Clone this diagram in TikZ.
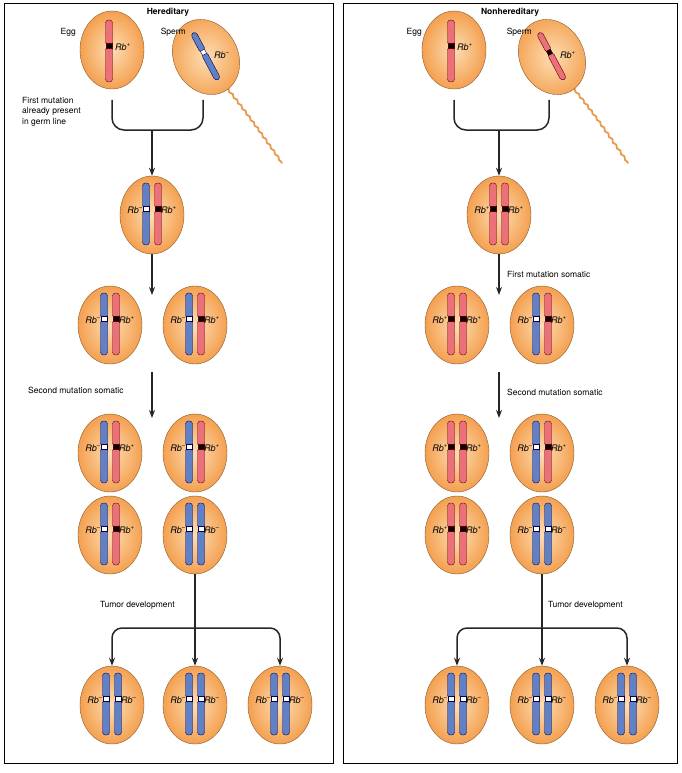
\documentclass[tikz,border=0pt]{standalone}
\usepackage{fontspec}
\setmainfont{TeX Gyre Heros}
\usetikzlibrary{arrows,arrows.meta,shapes.geometric,decorations.pathmorphing}

\definecolor{rodred}{RGB}{236,112,122}
\definecolor{rodblue}{RGB}{96,128,200}
\definecolor{cellorange}{RGB}{244,160,80}
\definecolor{celllight}{RGB}{253,222,180}

% one chromosome: x, y, type (m = Rb-, p = Rb+)
\newcommand\chrom[3]{%
  \draw[rod#3, rounded corners=3pt] (#1-3.5,#2-32) rectangle (#1+3.5,#2-7);
  \draw[rod#3, rounded corners=3pt] (#1-3.5,#2-5) rectangle (#1+3.5,#2+30);
  \draw[rod#3, mark#3] (#1-2.7,#2-9) rectangle (#1+2.7,#2-3.5);}
\newcommand\rbm{\textit{Rb}\textsuperscript{--}}
\newcommand\rbp{\textit{Rb}\textsuperscript{+}}
% a cell with a pair: name, x, y, left type, right type
\newcommand\cellpair[5]{%
  \node[cell] (#1) at (#2,#3) {};
  \chrom{#2-6}{#3}{#4}; \chrom{#2+6}{#3}{#5};
  \node[lbl, anchor=east] at (#2-9,#3-5) {\csname rb#4\endcsname};
  \node[lbl, anchor=west] at (#2+9,#3-5) {\csname rb#5\endcsname};}

\begin{document}
\begin{tikzpicture}[
    x=1pt, y=-1pt,
    > = stealth, % arrow head style
    line/.style = {line width=1.5pt, black!85},
    arr/.style = {line, ->, >={Stealth[length=8pt,width=6pt]}},
    cell/.style = {ellipse, draw=brown!70!black, thin, inner color=celllight,
                   outer color=cellorange, minimum width=64pt, minimum height=78pt},
    rodm/.style = {fill=rodblue, draw=blue!30!black, line width=0.4pt},
    rodp/.style = {fill=rodred, draw=red!35!black, line width=0.4pt},
    markm/.style = {fill=white},
    markp/.style = {fill=black},
    lbl/.style = {font=\fontsize{9}{10}\selectfont, inner sep=0pt},
    txt/.style = {font=\fontsize{8.5}{10.5}\selectfont, inner sep=0pt, align=left},
    tail/.style = {line width=1.8pt, color=cellorange!80!brown, line cap=round,
                   decorate, decoration={snake, amplitude=0.8pt, segment length=7pt}}
  ]
  \useasboundingbox (0,0) rectangle (681,773);
  \draw[thin] (4,3) rectangle (333,763);
  \draw[thin] (343,3) rectangle (677,763);

  % hereditary
  \node[txt, font=\bfseries\fontsize{8.5}{10}\selectfont] (ht) at (168,12) {Hereditary};
  \node[cell] (egg1) at (112,50) {};
  \chrom{109}{52}{p};
  \node[lbl, anchor=west] at (115,47) {\rbp};
  \node[txt, anchor=east] at (76,32) {Egg};
  \draw[tail] (222,82) .. controls (245,110) and (262,135) .. (282,163);
  \node[cell, rotate=28] (sp1) at (206,57) {};
  \begin{scope}[shift={(206,57)}, rotate=28, scale=0.85]
    \chrom{0}{0}{m};
  \end{scope}
  \node[lbl, anchor=west] at (214,55) {\rbm};
  \node[txt, anchor=east] at (186,32) {Sperm};
  \node[txt, anchor=north west] at (22,97) {First mutation\\already present\\in germ line};
  \coordinate (j1a) at (112,100);
  \coordinate (j1b) at (203,100);
  \coordinate (j1) at (152,130);
  \draw[line, rounded corners=12] (j1a) |- (j1) -| (j1b);
  \cellpair{z1}{152}{215}{m}{p}
  \draw[arr] (j1) -- (z1.north);
  \cellpair{a1}{110}{325}{m}{p}
  \cellpair{a2}{195}{325}{m}{p}
  \coordinate (k1) at (152,295);
  \draw[arr] (z1.south) -- (k1);
  \coordinate (k2) at (152,372);
  \coordinate (k3) at (152,418);
  \draw[arr] (k2) -- (k3);
  \node[txt, anchor=west] at (28,390) {Second mutation somatic};
  \cellpair{b1}{110}{453}{m}{p}
  \cellpair{b2}{195}{453}{m}{p}
  \cellpair{c1}{110}{535}{m}{p}
  \cellpair{c2}{195}{535}{m}{m}
  \node[txt, anchor=west] at (100,605) {Tumor development};
  \cellpair{d1}{112}{705}{m}{m}
  \cellpair{d2}{195}{705}{m}{m}
  \cellpair{d3}{280}{705}{m}{m}
  \coordinate (t1) at (195,628);
  \draw[line] (c2.south) -- (t1);
  \draw[arr, rounded corners=10] (t1) -| (d1.north);
  \draw[arr] (t1) -- (d2.north);
  \draw[arr, rounded corners=10] (t1) -| (d3.north);

  % nonhereditary
  \node[txt, font=\bfseries\fontsize{8.5}{10}\selectfont] (nt) at (510,12) {Nonhereditary};
  \node[cell] (egg2) at (454,50) {};
  \chrom{451}{52}{p};
  \node[lbl, anchor=west] at (457,47) {\rbp};
  \node[txt, anchor=east] at (422,32) {Egg};
  \draw[tail] (568,82) .. controls (592,110) and (608,135) .. (628,163);
  \node[cell, rotate=28] (sp2) at (552,57) {};
  \begin{scope}[shift={(552,57)}, rotate=28, scale=0.85]
    \chrom{0}{0}{p};
  \end{scope}
  \node[lbl, anchor=west] at (560,55) {\rbp};
  \node[txt, anchor=east] at (532,32) {Sperm};
  \coordinate (j2a) at (454,100);
  \coordinate (j2b) at (549,100);
  \coordinate (j2) at (499,130);
  \draw[line, rounded corners=12] (j2a) |- (j2) -| (j2b);
  \cellpair{z2}{499}{215}{p}{p}
  \draw[arr] (j2) -- (z2.north);
  \node[txt, anchor=west] at (507,274) {First mutation somatic};
  \cellpair{e1}{457}{325}{p}{p}
  \cellpair{e2}{542}{325}{m}{p}
  \coordinate (k4) at (499,295);
  \draw[arr] (z2.south) -- (k4);
  \coordinate (k5) at (499,372);
  \coordinate (k6) at (499,418);
  \draw[arr] (k5) -- (k6);
  \node[txt, anchor=west] at (507,392) {Second mutation somatic};
  \cellpair{f1}{457}{453}{p}{p}
  \cellpair{f2}{542}{453}{m}{p}
  \cellpair{g1}{457}{535}{p}{p}
  \cellpair{g2}{542}{535}{m}{m}
  \node[txt, anchor=west] at (548,605) {Tumor development};
  \cellpair{h1}{457}{705}{m}{m}
  \cellpair{h2}{542}{705}{m}{m}
  \cellpair{h3}{627}{705}{m}{m}
  \coordinate (t2) at (542,628);
  \draw[line] (g2.south) -- (t2);
  \draw[arr, rounded corners=10] (t2) -| (h1.north);
  \draw[arr] (t2) -- (h2.north);
  \draw[arr, rounded corners=10] (t2) -| (h3.north);
\end{tikzpicture}
\end{document}
